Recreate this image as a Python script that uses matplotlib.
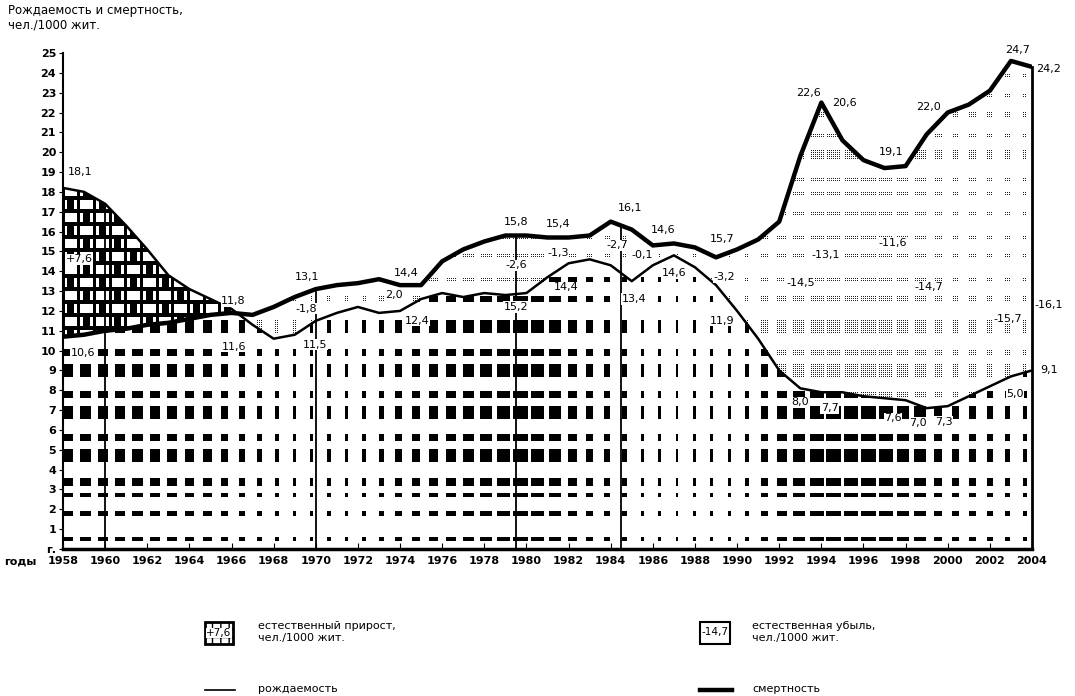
import numpy as np
import matplotlib.pyplot as plt
from matplotlib.colors import to_rgba
from matplotlib.path import Path
from matplotlib.patches import Rectangle

plt.rcParams['font.family'] = ['Liberation Sans Narrow', 'DejaVu Sans']

# --- данные: рождаемость и смертность, чел./1000 жит. ---
years = list(range(1958, 2005))
birth = [18.2, 18.0, 17.4, 16.3, 15.1, 13.8, 13.1, 12.6, 12.1, 11.3, 10.6, 10.8,
         11.5, 11.9, 12.2, 11.9, 12.0, 12.6, 12.9, 12.7, 12.9, 12.8,
         12.9, 13.7, 14.4, 14.6, 14.3, 13.5, 14.3, 14.8, 14.2, 13.3,
         12.0, 10.6, 9.0, 8.1, 7.9, 7.9, 7.7, 7.6, 7.5, 7.1,
         7.2, 7.7, 8.2, 8.7, 9.0]
death = [10.7, 10.8, 11.0, 11.1, 11.3, 11.4, 11.6, 11.8, 11.9, 11.8, 12.2, 12.7,
         13.1, 13.3, 13.4, 13.6, 13.3, 13.3, 14.5, 15.1, 15.5, 15.8,
         15.8, 15.7, 15.7, 15.8, 16.5, 16.1, 15.3, 15.4, 15.2, 14.7,
         15.1, 15.6, 16.5, 19.8, 22.5, 20.6, 19.6, 19.2, 19.3, 20.9,
         22.0, 22.4, 23.1, 24.6, 24.3]
census_lines = [1960, 1970, 1979.5, 1984.5]

year_ticks = [1958] + list(range(1960, 2005, 2))
y_ticks = list(range(0, 26))
y_tick_labels = ['г.'] + [str(v) for v in range(1, 26)]

# подписи значений: текст, год, уровень
value_labels = [
    ('18,1', 1958.8, 19.0), ('+7,6', 1958.75, 14.6), ('10,6', 1958.95, 9.9),
    ('11,8', 1966.1, 12.5), ('11,6', 1966.1, 10.2),
    ('13,1', 1969.6, 13.7), ('-1,8', 1969.55, 12.1), ('11,5', 1969.95, 10.3),
    ('14,4', 1974.3, 13.9), ('2,0', 1973.7, 12.8), ('12,4', 1974.8, 11.5),
    ('15,8', 1979.5, 16.5), ('-2,6', 1979.5, 14.3), ('15,2', 1979.5, 12.2),
    ('15,4', 1981.5, 16.4), ('-1,3', 1981.5, 14.9), ('14,4', 1981.9, 13.2),
    ('16,1', 1984.9, 17.2), ('-2,7', 1984.3, 15.3), ('13,4', 1985.1, 12.6),
    ('-0,1', 1985.5, 14.8), ('14,6', 1986.5, 16.1), ('14,6', 1987.0, 13.9),
    ('15,7', 1989.3, 15.6), ('-3,2', 1989.4, 13.7), ('11,9', 1989.3, 11.5),
    ('22,6', 1993.4, 23.0), ('20,6', 1995.1, 22.5), ('19,1', 1997.3, 20.0),
    ('22,0', 1999.1, 22.3), ('24,7', 2003.3, 25.15), ('24,2', 2004.8, 24.2),
    ('-13,1', 1994.2, 14.8), ('-11,6', 1997.4, 15.4), ('-14,5', 1993.0, 13.4),
    ('-14,7', 1999.1, 13.2), ('-15,7', 2002.85, 11.6), ('-16,1', 2004.8, 12.3),
    ('9,1', 2004.8, 9.0), ('5,0', 2003.2, 7.8),
    ('8,0', 1993.0, 7.4), ('7,7', 1994.4, 7.1), ('7,6', 1997.4, 6.6),
    ('7,0', 1998.6, 6.35), ('7,3', 1999.8, 6.4),
]

# --- растровая штриховка (как в печатной схеме) ---
W, H = 969, 496
ROW_CENTERS = [0.5, 1.8, 2.7, 3.4, 4.7, 5.6, 6.9, 7.8, 9.0, 9.9, 11.2, 12.6,
               13.6, 14.8, 15.7, 16.9, 17.9, 18.6, 19.9, 20.8, 21.9, 22.9, 23.9]
ROW_HEIGHTS = [4, 5, 4, 8, 13, 7, 13, 7, 13, 7, 13, 6, 5, 4, 4, 5, 4, 4, 11, 4, 6, 4, 4]
COL_PERIOD, COL_PHASE = 17.4, 5
WIDTH_YEARS = [1958, 1963, 1965, 1966.5, 1968, 1972, 1974, 1976, 1978, 1980, 1981.5,
               1982.5, 1984.5, 1985.5, 1990, 1991.5, 1993, 1994, 1996.5, 1998.5,
               1999.5, 2001, 2003, 2004]
WIDTH_FRAC = [0.6, 0.6, 0.5, 0.35, 0.2, 0.17, 0.4, 0.5, 0.7, 0.85, 0.65, 0.45, 0.3,
              0.17, 0.17, 0.45, 0.7, 0.85, 0.85, 0.7, 0.45, 0.4, 0.3, 0.17]

ix = np.arange(W)[None, :] + 0.5
iy = np.arange(H)[:, None] + 0.5


def stripes(coord, period, offset, width):
    p = (coord - offset) % period
    return np.minimum(p, period - p) <= width / 2


in_row = np.zeros((H, 1), bool)
for c, h in zip(ROW_CENTERS, ROW_HEIGHTS):
    in_row |= np.abs(iy - c * H / 25) <= h / 2
half = np.interp(years[0] + ix * (years[-1] - years[0]) / W, WIDTH_YEARS, WIDTH_FRAC) * COL_PERIOD
blocks = in_row & stripes(ix, COL_PERIOD, COL_PHASE, half)
dots = blocks & (np.arange(W)[None, :] % 2 == 0) & (np.arange(H)[:, None] % 2 == 0)

# клетка для естественного прироста
CELL_X, CELL_Y = 15.7, 13.0
cell_i = np.floor(ix / CELL_X).astype(int)
cell_j = np.floor(iy / CELL_Y).astype(int)
checker = ((cell_i + cell_j) % 2 == 0) & stripes(ix, CELL_X, CELL_X / 2, 7)
plaid = stripes(ix, CELL_X, 0, 3) | stripes(iy, CELL_Y, 0, 3) | checker


def rgba(mask, color):
    arr = np.zeros((H, W, 4))
    arr[np.broadcast_to(mask, (H, W))] = to_rgba(color)
    return arr


fig = plt.figure(figsize=(10.75, 6.96), dpi=100)
ax = fig.add_axes([63 / 1075, 147 / 696, W / 1075, H / 696])

xs = np.linspace(years[0], years[-1], 1841)
b = np.interp(xs, years, birth)
d = np.interp(xs, years, death)
low = ax.fill_between(xs, 0, np.minimum(b, d), color='none', lw=0)
inc = ax.fill_between(xs, d, b, where=b >= d, interpolate=True, color='none', lw=0)
dec = ax.fill_between(xs, b, d, where=d >= b, interpolate=True, color='none', lw=0)


def textured(mask, color, coll):
    path = Path.make_compound_path(*coll.get_paths())
    im = ax.imshow(rgba(mask, color), extent=(years[0], years[-1], 0, 25), origin='lower',
                   interpolation='nearest', aspect='auto', zorder=1)
    im.set_clip_path(path, transform=ax.transData)


textured(blocks, 'black', low)
textured(plaid, 'black', inc)
textured(dots, '#222222', dec)

tops = np.maximum(np.interp(census_lines, years, birth), np.interp(census_lines, years, death))
ax.vlines(census_lines, 0, tops, color='black', lw=1.3, zorder=3)

ax.plot(years, birth, color='black', lw=1.8, zorder=4, solid_joinstyle='round')
ax.plot(years, death, color='black', lw=3.2, zorder=4, solid_joinstyle='round')

for s, x, y in value_labels:
    ax.text(x, y, s, ha='center', va='center', fontsize=8, zorder=6, clip_on=False,
            bbox=dict(fc='white', ec='none', pad=0.4))

ax.set_xlim(years[0], years[-1])
ax.set_ylim(0, 25)
ax.set_xticks(year_ticks)
ax.set_xticklabels([str(y) for y in year_ticks])
ax.set_yticks(y_ticks)
ax.set_yticklabels(y_tick_labels)
ax.tick_params(axis='x', direction='in', length=4, labelsize=8, pad=5)
ax.tick_params(axis='y', direction='out', length=3, labelsize=8, pad=2)
for t in ax.get_xticklabels() + ax.get_yticklabels():
    t.set_fontweight('bold')
ax.spines['top'].set_visible(False)
ax.spines['left'].set_linewidth(1.5)
ax.spines['bottom'].set_linewidth(2.5)
ax.spines['right'].set_linewidth(2)
ax.spines['right'].set_bounds(0, death[-1])

fig.text(8 / 1075, 1 - 4 / 696, 'Рождаемость и смертность,\nчел./1000 жит.',
         ha='left', va='top', fontsize=8.5, linespacing=1.15)
fig.text(4 / 1075, 1 - 562 / 696, 'годы', ha='left', va='center', fontsize=8, fontweight='bold')

# легенда в пиксельных координатах
lg = fig.add_axes([0, 0, 1, 1], zorder=-1)
lg.set_xlim(0, 1075)
lg.set_ylim(696, 0)
lg.axis('off')
lg.add_patch(Rectangle((205, 622), 28, 22, fc='white', ec='black', lw=2, hatch='++'))
lg.text(219, 633, '+7,6', ha='center', va='center', fontsize=7.5,
        bbox=dict(fc='white', ec='none', pad=0.2))
lg.text(258, 632, 'естественный прирост,\nчел./1000 жит.', ha='left', va='center', fontsize=8)
lg.add_patch(Rectangle((700, 622), 30, 22, fc='white', ec='black', lw=1.5))
lg.text(715, 632, '-14,7', ha='center', va='center', fontsize=7.5)
lg.text(752, 632, 'естественная убыль,\nчел./1000 жит.', ha='left', va='center', fontsize=8)
lg.plot([205, 235], [690, 690], color='black', lw=1.2)
lg.text(258, 689, 'рождаемость', ha='left', va='center', fontsize=8)
lg.plot([700, 732], [690, 690], color='black', lw=3.2)
lg.text(752, 689, 'смертность', ha='left', va='center', fontsize=8)

fig.savefig('out.png', dpi=100)
